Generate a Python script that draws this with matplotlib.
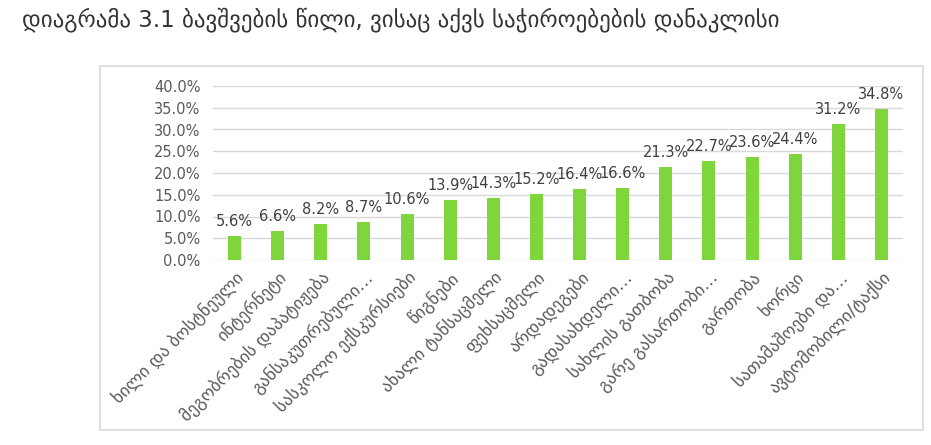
import matplotlib
matplotlib.use("Agg")
import matplotlib.pyplot as plt
from matplotlib.patches import Rectangle
from matplotlib.ticker import FuncFormatter, MultipleLocator

title = "დიაგრამა 3.1 ბავშვების წილი, ვისაც აქვს საჭიროებების დანაკლისი"
categories = [
    "ხილი და ბოსტნეული",
    "ინტერნეტი",
    "მეგობრების დაპატიჟება",
    "განსაკუთრებული…",
    "სასკოლო ექსკურსიები",
    "წიგნები",
    "ახალი ტანსაცმელი",
    "ფეხსაცმელი",
    "არდადეგები",
    "გადასახდელი…",
    "სახლის გათბობა",
    "გარე გასართობი…",
    "გართობა",
    "ხორცი",
    "სათამაშოები და…",
    "ავტომობილი/ტაქსი",
]
values = [5.6, 6.6, 8.2, 8.7, 10.6, 13.9, 14.3, 15.2, 16.4, 16.6,
          21.3, 22.7, 23.6, 24.4, 31.2, 34.8]

plt.rcParams['font.family'] = ['DejaVu Sans']
fig = plt.figure(figsize=(9.31, 4.45), dpi=100)
# outer frame
fig.patches.append(Rectangle((100/931, 1-430/445), 823/931, 364/445,
                             transform=fig.transFigure, fill=False,
                             edgecolor='#d9d9d9', linewidth=1.2))
fig.text(22/931, 1-20/445, title, fontsize=16.5, color='#333333',
         va='center', ha='left')

ax = fig.add_axes([213/931, 1-260/445, 690/931, 174/445])
x = list(range(len(values)))
ax.bar(x, values, width=0.3, color='#7ed63c', zorder=3)
for xi, v in zip(x, values):
    ax.annotate(f"{v:.1f}%", (xi, v), xytext=(0, 5), textcoords='offset points',
                ha='center', va='bottom', fontsize=10.5, color='#404040')
ax.set_xlim(-0.5, len(values) - 0.5)
ax.set_ylim(0, 40)
ax.yaxis.set_major_locator(MultipleLocator(5))
ax.yaxis.set_major_formatter(FuncFormatter(lambda v, p: f"{v:.1f}%"))
ax.grid(axis='y', color='#d9d9d9', linewidth=1, zorder=0)
for s in ax.spines.values():
    s.set_visible(False)
ax.tick_params(axis='both', length=0, colors='#595959', labelsize=10.5)
ax.tick_params(axis='y', pad=9)
ax.set_xticks(x)
ax.set_xticklabels(categories, rotation=45, ha='right', rotation_mode='anchor',
                   fontsize=12.5)
ax.tick_params(axis='x', pad=6)

fig.savefig("out.png", dpi=100)
